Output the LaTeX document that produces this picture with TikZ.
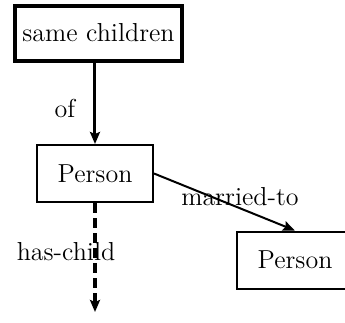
\documentclass[tikz,border=0pt]{standalone}
\usetikzlibrary{arrows.meta}
\begin{document}
\begin{tikzpicture}[x=0.5pt,y=-0.5pt,
  every node/.style={font=\fontsize{13}{15}\selectfont, inner sep=0pt},
  concept/.style={draw, line width=1pt, minimum width=58pt, minimum height=28.5pt},
  focus/.style={draw, line width=2pt, minimum width=83.5pt, minimum height=27.5pt},
  head/.style={-{Stealth[length=6pt,width=5pt,inset=1pt]}},
  rel/.style={font=\fontsize{13}{15}\selectfont}]
  \useasboundingbox (0,0) rectangle (345,323);
  \begin{scope}
    \clip (0,0) rectangle (345,323);
    \node[focus]   (top) at (98.5,33)  {same children};
    \node[concept] (p1)  at (95,173.5) {Person};
    \node[concept] (p2)  at (295,260)  {Person};
  \end{scope}
  \coordinate (down) at (95,312);
  \draw[head, line width=1.5pt] (p1.north |- top.south) -- (p1.north);
  \draw[head, line width=1pt] (p1.east) -- (p2.north);
  \draw[head, line width=1.6pt, dash pattern=on 5pt off 2.5pt] (p1.south) -- (down);
  \node[rel] (lof)  at (65,108)  {of};
  \node[rel] (lhas) at (66,252)  {has-child};
  \node[rel] (lmar) at (240,197) {married-to};
\end{tikzpicture}
\end{document}
